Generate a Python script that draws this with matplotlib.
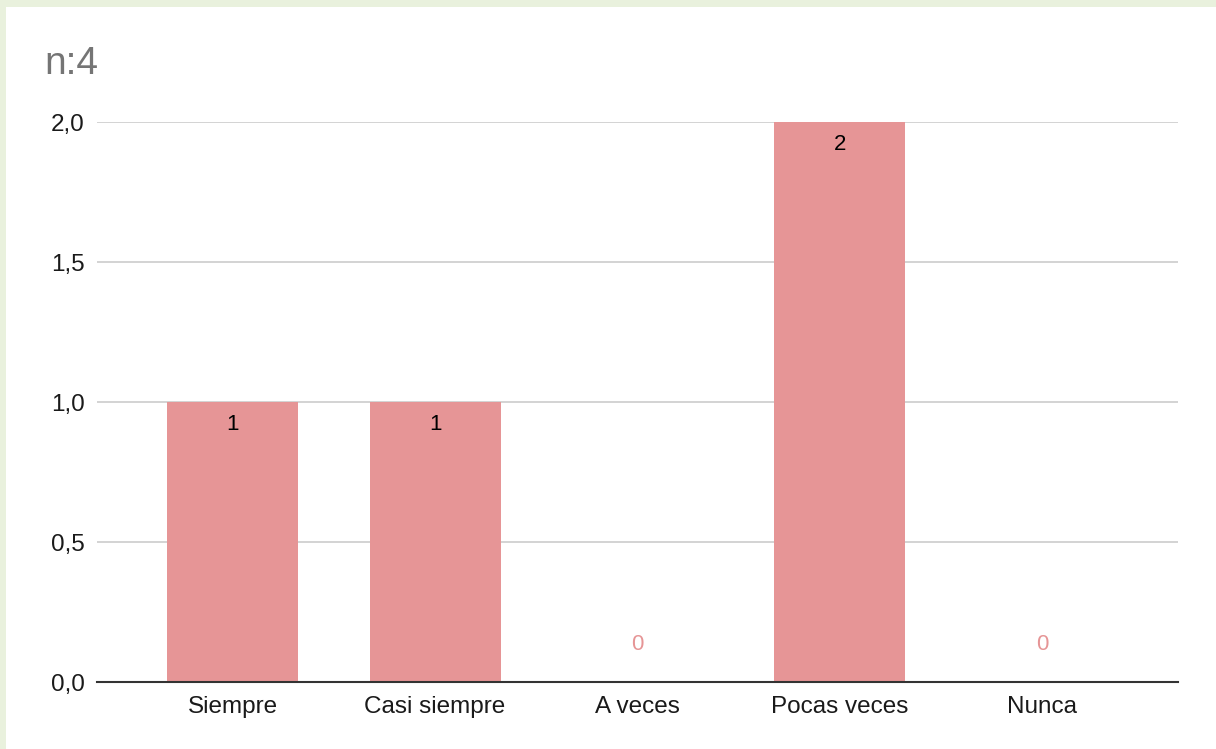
import matplotlib.pyplot as plt
from matplotlib.ticker import FuncFormatter

categorias = ['Siempre', 'Casi siempre', 'A veces', 'Pocas veces', 'Nunca']
valores = [1, 1, 0, 2, 0]
ticks_y = [0.0, 0.5, 1.0, 1.5, 2.0]

color_barra = '#e69596'
plt.rcParams['font.family'] = ['Liberation Sans', 'DejaVu Sans']

fig = plt.figure(figsize=(12.16, 7.49), dpi=100, facecolor='#e9f1dd')
# panel blanco con borde verde arriba y a la izquierda
fig.patches.append(plt.Rectangle((6 / 1216, 0), 1, 1 - 7 / 749, transform=fig.transFigure,
                                 facecolor='white', edgecolor='none', zorder=-5))

ax = fig.add_axes([97 / 1216, 67 / 749, 1081 / 1216, 560 / 749])
ax.set_facecolor('none')
x = range(len(categorias))
ax.bar(x, valores, width=0.647, color=color_barra, zorder=2)

for i, v in enumerate(valores):
    if v > 0:
        ax.annotate(str(v), (i, v), xytext=(0, -16.5), textcoords='offset points',
                    ha='center', va='center', fontsize=16, color='black', zorder=3)
    else:
        ax.annotate(str(v), (i, v), xytext=(0, 27), textcoords='offset points',
                    ha='center', va='center', fontsize=16, color=color_barra, zorder=3)

ax.set_xlim(-0.67, 4.67)
ax.set_ylim(0, 2.0)
ax.set_yticks(ticks_y)
ax.yaxis.set_major_formatter(FuncFormatter(lambda v, p: f'{v:.1f}'.replace('.', ',')))
ax.set_xticks(list(x))
ax.set_xticklabels(categorias)
ax.tick_params(axis='both', length=0, labelsize=17.5, colors='#1a1a1a')
ax.tick_params(axis='x', pad=10)
ax.tick_params(axis='y', pad=9)
ax.grid(axis='y', color='#cccccc', linewidth=1.2, zorder=1)
ax.set_axisbelow(True)
for s in ['top', 'right', 'left']:
    ax.spines[s].set_visible(False)
ax.spines['bottom'].set_color('#333333')
ax.spines['bottom'].set_linewidth(1.5)
ax.spines['bottom'].set_zorder(4)

fig.text(44 / 1216, 1 - 64 / 749, 'n:4', fontsize=28, color='#757575', va='center', ha='left')

fig.savefig('out.png', dpi=100, facecolor=fig.get_facecolor())
